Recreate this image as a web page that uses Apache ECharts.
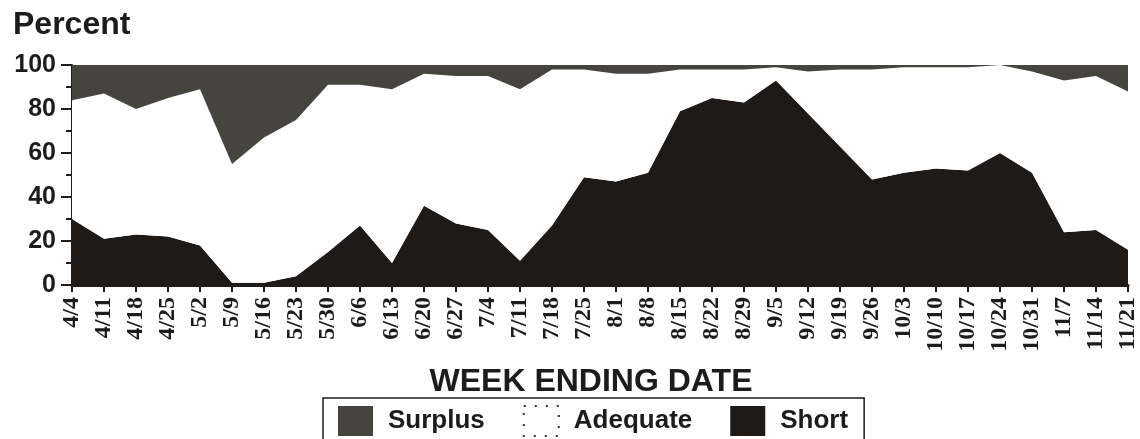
<!DOCTYPE html>
<html>
<head>
<meta charset="utf-8">
<script src="https://cdn.jsdelivr.net/npm/echarts@6/dist/echarts.min.js"></script>
<style>
  html, body { margin: 0; padding: 0; background: #fff; }
  #chart { width: 1140px; height: 439px; }
</style>
</head>
<body>
<div id="chart"></div>
<script>
// week ending dates
const weeks = ['4/4','4/11','4/18','4/25','5/2','5/9','5/16','5/23','5/30','6/6','6/13','6/20','6/27','7/4','7/11','7/18','7/25','8/1','8/8','8/15','8/22','8/29','9/5','9/12','9/19','9/26','10/3','10/10','10/17','10/24','10/31','11/7','11/14','11/21'];

// percent of reports in each class
const shortPct    = [30,21,23,22,18,1,1,4,15,27,10,36,28,25,11,27,49,47,51,79,85,83,93,78,63,48,51,53,52,60,51,24,25,16];
const adequatePct = [54,66,57,63,71,54,66,71,76,64,79,60,67,70,78,71,49,49,45,19,13,15,6,19,35,50,48,46,47,40,46,69,70,72];
const surplusPct  = [16,13,20,15,11,45,33,25,9,9,11,4,5,5,11,2,2,4,4,2,2,2,1,3,2,2,1,1,1,0,3,7,5,12];

const yTicks = [0, 20, 40, 60, 80, 100];

let chart = echarts.init(document.getElementById('chart'));

function areaSeries(name, data, color) {
    return {
        name: name,
        type: 'line',
        stack: 'total',
        data: data,
        symbol: 'none',
        lineStyle: { width: 0 },
        itemStyle: { color: color },
        areaStyle: { color: color, opacity: 1 }
    };
}

let option = {
    animation: false,
    backgroundColor: '#fff',
    title: [
        {
            text: 'Percent', left: 8, top: 4,
            textStyle: { fontFamily: 'Liberation Sans', fontWeight: 'bold', fontSize: 32, color: '#1e1c1a' }
        },
        {
            text: 'WEEK ENDING DATE', left: 586, top: 361, textAlign: 'center',
            textStyle: { fontFamily: 'Liberation Sans', fontWeight: 'bold', fontSize: 32, color: '#1e1c1a' }
        }
    ],
    legend: {
        left: 323, top: 398,
        padding: [7, 16, 20, 15],
        borderColor: '#1e1c1a', borderWidth: 1.5,
        itemWidth: 35, itemHeight: 30, itemGap: 38,
        selectedMode: false,
        textStyle: { fontFamily: 'Liberation Sans', fontWeight: 'bold', fontSize: 26, color: '#1e1c1a', padding: [0, 0, 0, 10] },
        data: [
            { name: 'Surplus', icon: 'rect' },
            { name: 'Adequate', icon: 'rect', itemStyle: { color: '#fff', borderColor: '#333', borderWidth: 2, borderType: [2, 9] } },
            { name: 'Short', icon: 'rect' }
        ]
    },
    grid: { left: 72, right: 7, top: 65, bottom: 154 },
    xAxis: {
        type: 'category',
        data: weeks,
        boundaryGap: false,
        axisLine: { lineStyle: { color: '#1e1c1a', width: 3 } },
        axisTick: { show: true, alignWithLabel: true, length: 7, lineStyle: { color: '#1e1c1a', width: 2 } },
        axisLabel: {
            interval: 0, rotate: 90, margin: 12,
            fontFamily: 'Liberation Serif', fontWeight: 'bold', fontSize: 24, color: '#1e1c1a'
        }
    },
    yAxis: {
        type: 'value',
        min: yTicks[0], max: yTicks[yTicks.length - 1], interval: 20,
        splitLine: { show: false },
        axisLine: { show: true, lineStyle: { color: '#1e1c1a', width: 2 } },
        axisTick: { show: true, length: 11, lineStyle: { color: '#1e1c1a', width: 2 } },
        minorTick: { show: true, splitNumber: 2, length: 6, lineStyle: { color: '#1e1c1a', width: 2 } },
        axisLabel: { margin: 16, fontFamily: 'Liberation Sans', fontWeight: 'bold', fontSize: 25, color: '#1e1c1a' }
    },
    series: [
        areaSeries('Short', shortPct, '#1e1a18'),
        areaSeries('Adequate', adequatePct, '#ffffff'),
        areaSeries('Surplus', surplusPct, '#46443f')
    ]
};

chart.setOption(option);
</script>
</body>
</html>
